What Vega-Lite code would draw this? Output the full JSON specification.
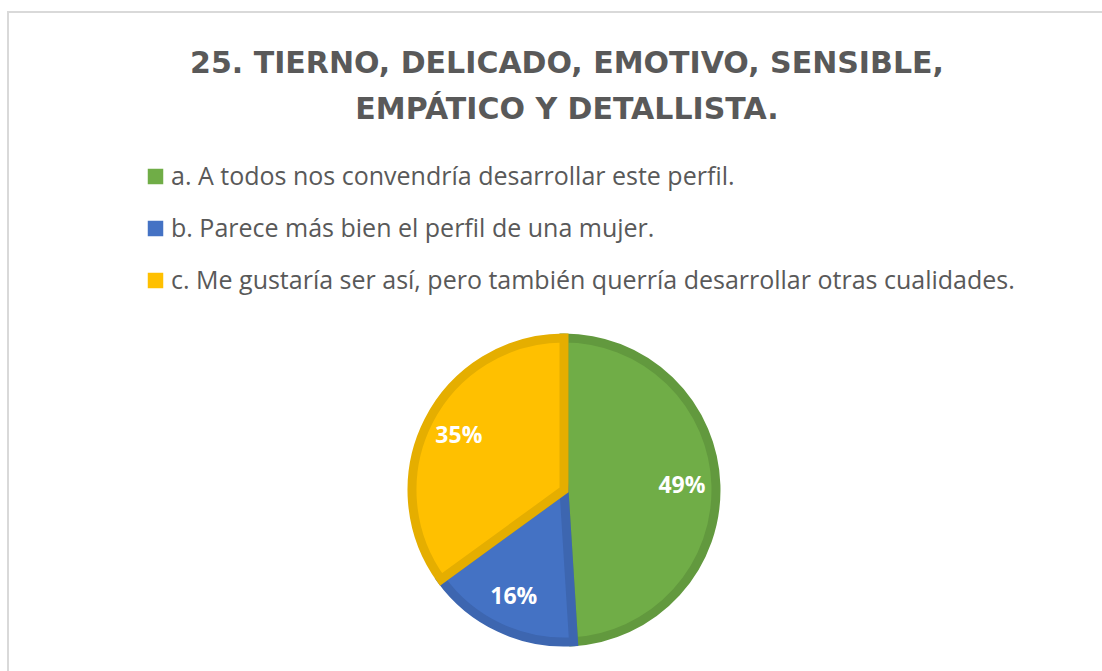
{
  "$schema": "https://vega.github.io/schema/vega-lite/v6.json",
  "autosize": "none",
  "width": 1112,
  "height": 956,
  "padding": {"left": 8, "top": 12, "right": -18, "bottom": -297},
  "background": "white",
  "view": {"stroke": "#d9d9d9", "strokeWidth": 2, "fill": "white"},
  "config": {
    "font": "Open Sans"
  },
  "title": {
    "text": ["25. TIERNO, DELICADO, EMOTIVO, SENSIBLE,", "EMPÁTICO Y DETALLISTA."],
    "anchor": "middle",
    "frame": "group",
    "orient": "top",
    "offset": -113,
    "font": "DejaVu Sans",
    "fontSize": 30,
    "fontWeight": "bold",
    "color": "#595959",
    "lineHeight": 46,
    "dx": 3
  },
  "data": {
    "values": [
      {"cat": "a. A todos nos convendría desarrollar este perfil.", "pct": 0.49, "order": 1},
      {"cat": "b. Parece más bien el perfil de una mujer.", "pct": 0.16, "order": 2},
      {"cat": "c. Me gustaría ser así, pero también querría desarrollar otras cualidades.", "pct": 0.35, "order": 3}
    ]
  },
  "encoding": {
    "theta": {"field": "pct", "type": "quantitative", "stack": true},
    "order": {"field": "order", "type": "quantitative"}
  },
  "layer": [
    {
      "mark": {"type": "arc", "outerRadius": 152, "strokeWidth": 9},
      "encoding": {
        "color": {
          "field": "cat",
          "type": "nominal",
          "scale": {"range": ["#70AD47", "#4472C4", "#FFC000"]},
          "legend": {
            "title": null,
            "orient": "none",
            "legendX": 135,
            "legendY": 152,
            "padding": 0,
            "symbolType": "square",
            "symbolSize": 240,
            "symbolStrokeWidth": 0,
            "labelFont": "Open Sans",
            "labelFontSize": 25,
            "labelColor": "#595959",
            "labelLimit": 1000,
            "labelOffset": 3,
            "rowPadding": 26
          }
        },
        "stroke": {
          "field": "cat",
          "type": "nominal",
          "scale": {"range": ["#62993E", "#3D66B0", "#E5AE00"]},
          "legend": null
        }
      }
    },
    {
      "mark": {"type": "text", "radius": 118, "fontSize": 23, "fontWeight": "bold", "color": "white", "font": "Open Sans"},
      "encoding": {
        "text": {"field": "pct", "type": "quantitative", "format": ".0%"}
      }
    }
  ]
}
